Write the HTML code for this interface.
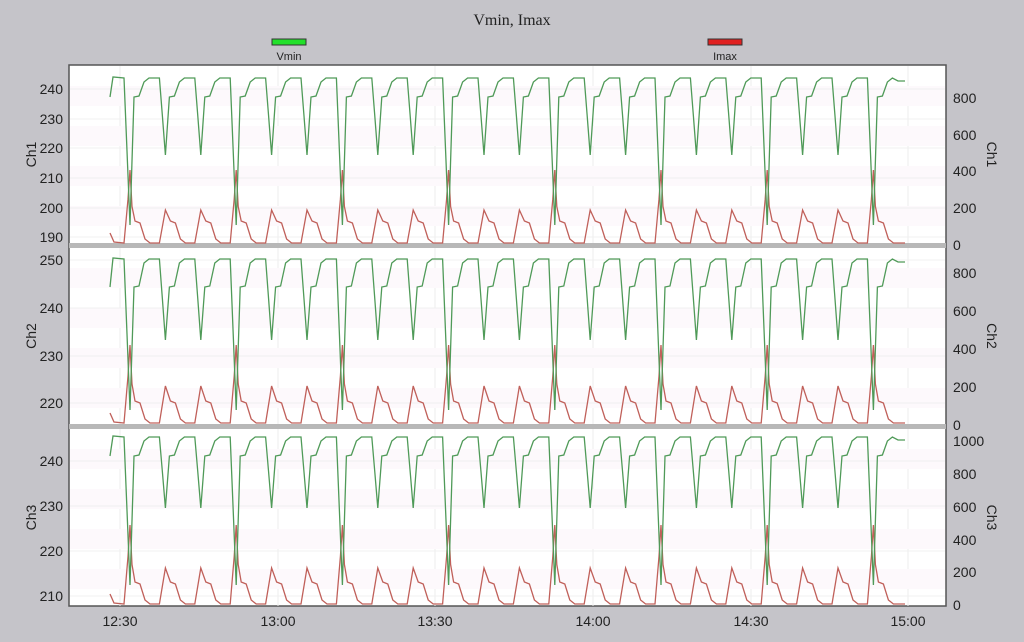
<!DOCTYPE html>
<html><head><meta charset="utf-8"><style>
body{margin:0;background:#c5c4c9;width:1024px;height:642px;overflow:hidden}
svg{display:block}
text{font-family:"Liberation Sans",sans-serif;font-size:14px;fill:#222}
</style></head><body>
<svg id="s" width="1024" height="642" viewBox="0 0 1024 642">
<rect width="1024" height="642" fill="#c5c4c9"/>
<text x="512" y="25" text-anchor="middle" style="font-family:'Liberation Serif',serif;font-size:16px">Vmin, Imax</text>
<rect x="272" y="39" width="34" height="6" fill="#22e02a" stroke="#333" stroke-width="1"/>
<text x="289" y="60" text-anchor="middle" style="font-size:11px">Vmin</text>
<rect x="708" y="39" width="34" height="6" fill="#e02020" stroke="#333" stroke-width="1"/>
<text x="725" y="60" text-anchor="middle" style="font-size:11px">Imax</text>
<rect x="69" y="65" width="877" height="541" fill="#fff" stroke="#555" stroke-width="1.5"/>
<g id="bg"></g>
<rect x="69" y="243" width="877" height="5" fill="#b8b8b8"/>
<rect x="69" y="424" width="877" height="5" fill="#b8b8b8"/>
<g id="lines"></g>
<g id="labels"></g>
</svg>
<script>
const NS="http://www.w3.org/2000/svg";
function el(p,t,a,txt){const e=document.createElementNS(NS,t);for(const k in a)e.setAttribute(k,a[k]);if(txt!==undefined)e.textContent=txt;document.getElementById(p).appendChild(e);return e;}
const panels=[
 {t:66,b:243,top:77,sh:97,sd:155,dd:225,base:243,ss:210,ds:170,
  L:[[240,89],[230,119],[220,148],[210,178],[200,208],[190,237]],R:[[800,98],[600,135],[400,171],[200,208],[0,245]],name:"Ch1"},
 {t:248,b:424,top:258,sh:287,sd:340,dd:410,base:423,ss:386,ds:345,
  L:[[250,260],[240,308],[230,356],[220,403]],R:[[800,273],[600,311],[400,349],[200,387],[0,425]],name:"Ch2"},
 {t:429,b:606,top:436,sh:456,sd:508,dd:585,base:604,ss:568,ds:525,
  L:[[240,461],[230,506],[220,551],[210,596]],R:[[1000,441],[800,474],[600,507],[400,540],[200,572],[0,605]],name:"Ch3"}
];
const tx=[[120,"12:30"],[278,"13:00"],[435,"13:30"],[593,"14:00"],[751,"14:30"],[908,"15:00"]];
tx.forEach(([x,l])=>{el("bg","line",{x1:x,x2:x,y1:66,y2:606,stroke:"#ececec"});el("labels","text",{x:x,y:626,"text-anchor":"middle"},l);});
panels.forEach(p=>{
 for(let y=p.t+20;y<p.b;y+=40)el("bg","rect",{x:70,y:y,width:875,height:20,fill:"#fdf9fc"});
 p.L.forEach(([v,y])=>{el("labels","text",{x:63,y:y+5,"text-anchor":"end"},v);el("bg","line",{x1:70,x2:945,y1:y,y2:y,stroke:"#f0f0f0"});});
 p.R.forEach(([v,y])=>el("labels","text",{x:953,y:y+5},v));
 const cy=(p.t+p.b)/2;
 el("labels","text",{x:0,y:0,transform:`translate(36,${cy}) rotate(-90)`,"text-anchor":"middle"},p.name);
 el("labels","text",{x:0,y:0,transform:`translate(987,${cy}) rotate(90)`,"text-anchor":"middle"},p.name);
 const dips=[];for(let k=0;k<22;k++){const d=130+k*35.4;dips.push([d,k%3==0]);}
 let v=[[110,p.sh],[113,p.top]],c=[[110,p.base-10],[114,p.base-1]];
 dips.forEach(([d,deep])=>{
  const dy=deep?p.dd:p.sd, sy=deep?p.ds:p.ss;
  v.push([d-6,p.top+1],[d-3,p.top+(dy-p.top)*0.5],[d,dy],[d+4,p.sh],[d+9,p.sh-1],[d+14,p.top+5],[d+19,p.top+1]);
  if(deep) c.push([d-6,p.base],[d-2,p.base-(p.base-sy)*0.6],[d,sy],[d+2,p.base-(p.base-sy)*0.5],[d+5,p.base-22],[d+10,p.base-20],[d+15,p.base-4],[d+20,p.base]);
  else c.push([d-6,p.base],[d,sy],[d+5,p.base-22],[d+10,p.base-20],[d+15,p.base-4],[d+20,p.base]);
 });
 v.push([898,p.top+4],[905,p.top+4]);c.push([905,p.base]);
 const pth=a=>"M"+a.map(q=>q[0].toFixed(1)+","+q[1].toFixed(1)).join("L");
 el("lines","path",{d:pth(c),fill:"none",stroke:"#c0605a","stroke-width":1.3});
 el("lines","path",{d:pth(v),fill:"none",stroke:"#4f9a58","stroke-width":1.3});
});
</script>
</body></html>
